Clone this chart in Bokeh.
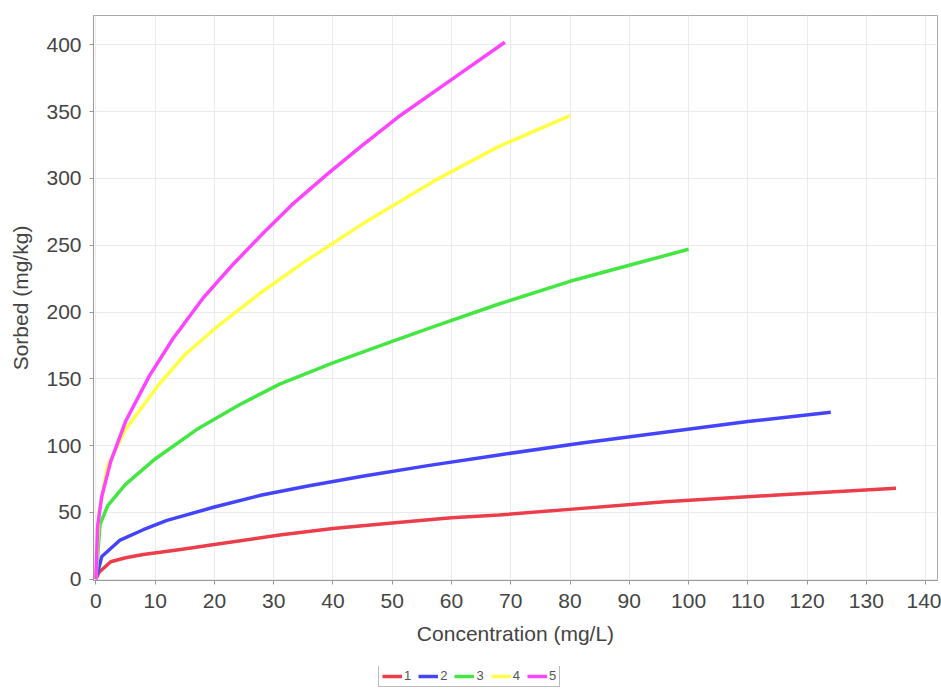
from bokeh.plotting import figure
from bokeh.models import Range1d, Legend, LegendItem, SingleIntervalTicker
from bokeh.layouts import column
from bokeh.embed import file_html
from bokeh.resources import INLINE

# Data
series_names = ["1", "2", "3", "4", "5"]
conc_1 = [0, 0.5, 2.5, 5, 8, 14, 20, 31, 40, 50, 60, 68, 82, 96, 115, 135]
sorb_1 = [0, 5, 13, 16, 18.5, 22, 26, 33, 38, 42, 46, 48, 53, 58, 63, 68]
conc_2 = [0, 1, 4, 8, 12, 20, 28, 36, 45, 56, 68, 82, 96, 110, 124]
sorb_2 = [0, 17, 29, 37, 44, 54, 63, 70, 77, 85, 93, 102, 110, 118, 125]
conc_3 = [0, 0.7, 2, 5, 10, 17, 24, 31, 40, 50, 57, 68, 80, 90, 100]
sorb_3 = [0, 41, 55, 71, 90, 112, 130, 146, 162, 178, 189, 206, 223, 235, 247]
conc_4 = [0, 0.5, 2, 5, 10.5, 15, 21, 28, 35, 45, 57, 68, 80]
sorb_4 = [0, 50, 85, 112, 145, 168, 191, 215, 237, 266, 298, 324, 347]
conc_5 = [0, 0.3, 1, 2.5, 5, 9, 13, 18, 23, 28, 33, 39, 45, 51, 60, 69]
sorb_5 = [0, 40, 62, 88, 118, 152, 180, 210, 235, 258, 280, 303, 325, 346, 374, 402]
colors = ["#ec3e4a", "#4444ff", "#44e644", "#ffff44", "#ff44ff"]

FONT = "Liberation Sans"

p = figure(width=941, height=656, output_backend="svg", toolbar_location=None,
           x_range=Range1d(-0.4, 142), y_range=Range1d(-1, 422),
           min_border_left=93, min_border_right=4, min_border_top=15,
           min_border_bottom=76)

p.outline_line_color = "#aaaaaa"
p.outline_line_width = 1
p.background_fill_color = "white"
p.border_fill_color = "white"

p.xaxis.ticker = SingleIntervalTicker(interval=10, num_minor_ticks=0)
p.yaxis.ticker = SingleIntervalTicker(interval=50, num_minor_ticks=0)
p.xgrid.grid_line_color = "#ebebeb"
p.ygrid.grid_line_color = "#ebebeb"
p.xgrid.grid_line_width = 1
p.ygrid.grid_line_width = 1

for ax in (p.xaxis, p.yaxis):
    ax.axis_line_color = "#999999"
    ax.major_tick_line_color = "#999999"
    ax.minor_tick_line_color = None
    ax.major_tick_in = 0
    ax.major_tick_out = 4
    ax.major_label_text_font = FONT
    ax.major_label_text_font_size = "21px"
    ax.major_label_text_color = "#444444"
    ax.axis_label_text_font = FONT
    ax.axis_label_text_font_size = "21px"
    ax.axis_label_text_font_style = "normal"
    ax.axis_label_text_color = "#444444"

p.xaxis.axis_label = "Concentration (mg/L)"
p.yaxis.axis_label = "Sorbed (mg/kg)"
p.xaxis.major_label_standoff = 9
p.xaxis.axis_label_standoff = 11
p.yaxis.major_label_standoff = 8
p.yaxis.axis_label_standoff = 11

xs = [conc_1, conc_2, conc_3, conc_4, conc_5]
ys = [sorb_1, sorb_2, sorb_3, sorb_4, sorb_5]
for x, y, c in zip(xs, ys, colors):
    p.line(x, y, line_color=c, line_width=3.5, line_join="round")

# Legend strip beneath the chart (its swatch lines sit outside its visible range)
p2 = figure(width=941, height=34, output_backend="svg", toolbar_location=None,
            x_range=Range1d(0, 1), y_range=Range1d(0, 1),
            x_axis_type=None, y_axis_type=None,
            min_border_left=0, min_border_right=0, min_border_top=10,
            min_border_bottom=0)
p2.outline_line_color = None
p2.xgrid.visible = False
p2.ygrid.visible = False
items = []
for name, c in zip(series_names, colors):
    r = p2.line([-5, -4], [-5, -5], line_color=c, line_width=3.5)
    items.append(LegendItem(label=name, renderers=[r]))

legend = Legend(items=items, orientation="horizontal", location=(285, 3))
legend.label_text_font = FONT
legend.label_text_font_size = "13px"
legend.label_text_color = "#555555"
legend.glyph_width = 20
legend.glyph_height = 10
legend.label_height = 12
legend.label_width = 7
legend.label_standoff = 2
legend.spacing = 7
legend.padding = 3
legend.margin = 0
legend.border_line_color = "#777777"
legend.background_fill_alpha = 1
p2.add_layout(legend, "center")

layout = column(p, p2, spacing=0)
open("out.html", "w").write(file_html(layout, INLINE))
